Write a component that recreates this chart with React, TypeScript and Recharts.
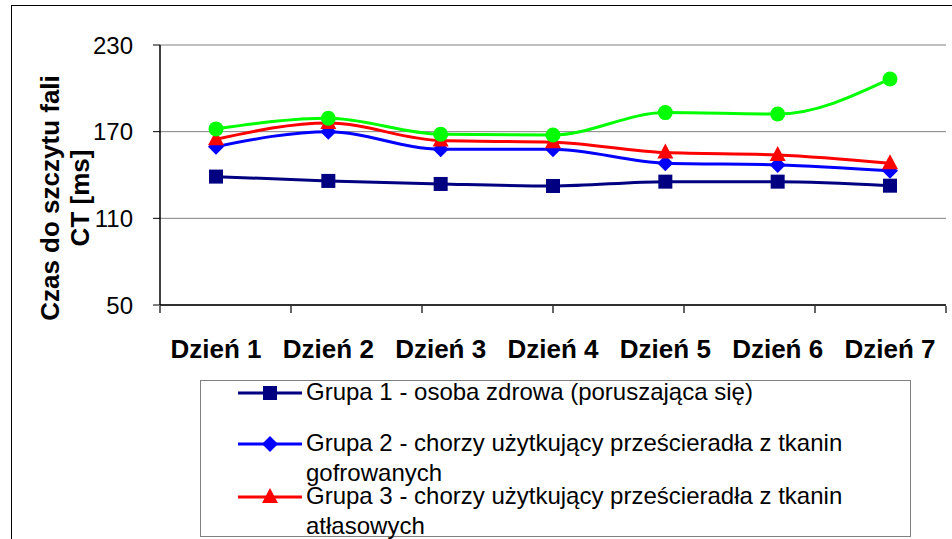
import { LineChart, Line, XAxis, YAxis, CartesianGrid } from "recharts";

const days = ["Dzień 1", "Dzień 2", "Dzień 3", "Dzień 4", "Dzień 5", "Dzień 6", "Dzień 7"];
const grupa1 = [138.9, 135.9, 133.8, 132.4, 135.4, 135.4, 132.6];
const grupa2 = [159.6, 170.0, 157.8, 157.8, 148.1, 147.0, 143.0];
const grupa3 = [164.7, 176.0, 163.8, 162.7, 155.5, 153.9, 148.1];
const grupa4 = [171.9, 179.3, 168.2, 167.7, 183.2, 182.2, 206.5];
const yTicks = [50, 110, 170, 230];
const boundaryTicks = [0, 1, 2, 3, 4, 5, 6, 7];

const legendNames = [
  "Grupa 1 - osoba zdrowa (poruszająca się)",
  "Grupa 2 - chorzy użytkujący prześcieradła z tkanin gofrowanych",
  "Grupa 3 - chorzy użytkujący prześcieradła z tkanin atłasowych",
];

const data = days.map((d, i) => ({
  name: d,
  g1: grupa1[i],
  g2: grupa2[i],
  g3: grupa3[i],
  g4: grupa4[i],
}));

const FONT = "'Liberation Sans', Arial, sans-serif";

function Square(props: any) {
  const { cx, cy, c } = props;
  if (cx == null || cy == null) return null;
  return <rect x={cx - 7} y={cy - 7} width={14} height={14} fill={c} />;
}
function Diamond(props: any) {
  const { cx, cy, c } = props;
  if (cx == null || cy == null) return null;
  return <polygon points={`${cx},${cy - 8} ${cx + 8},${cy} ${cx},${cy + 8} ${cx - 8},${cy}`} fill={c} />;
}
function Triangle(props: any) {
  const { cx, cy, c } = props;
  if (cx == null || cy == null) return null;
  return <polygon points={`${cx},${cy - 9} ${cx + 8},${cy + 6} ${cx - 8},${cy + 6}`} fill={c} />;
}
function Circle(props: any) {
  const { cx, cy, c } = props;
  if (cx == null || cy == null) return null;
  return <circle cx={cx} cy={cy} r={7.5} fill={c} />;
}

const legendItems = [
  { name: legendNames[0], color: "#000080", Marker: Square, y: 393 },
  { name: legendNames[1], color: "#0000FF", Marker: Diamond, y: 444 },
  { name: legendNames[2], color: "#FF0000", Marker: Triangle, y: 497 },
];

export default function App() {
  return (
    <div style={{ position: "absolute", left: 0, top: 0, width: 952, height: 539, overflow: "hidden", background: "#fff", fontFamily: FONT }}>
      <div style={{ position: "absolute", left: 11, top: 5, width: 1000, height: 600, border: "1.5px solid #000" }} />
      <div style={{ position: "absolute", left: 0, top: 0 }}>
        <LineChart width={952} height={539} data={data} margin={{ top: 45, right: 6, left: 100, bottom: 232 }}>
          <CartesianGrid horizontal vertical={false} stroke="#808080" strokeWidth={1} />
          <XAxis
            dataKey="name"
            padding={{ left: 56, right: 56 }}
            axisLine={{ stroke: "#000", strokeWidth: 1.5 }}
            tickLine={false}
            tick={{ fontSize: 26, fontWeight: 700, fill: "#000", fontFamily: FONT }}
            tickMargin={29}
            interval={0}
            height={1}
          />
          <XAxis
            xAxisId="b"
            type="number"
            domain={[0, 7]}
            ticks={boundaryTicks}
            interval={0}
            tickFormatter={() => ""}
            tick={{ fontSize: 1 }}
            tickSize={7}
            axisLine={false}
            tickLine={{ stroke: "#000", strokeWidth: 1.2 }}
            height={1}
          />
          <YAxis
            domain={[50, 230]}
            ticks={yTicks}
            interval={0}
            axisLine={{ stroke: "#000", strokeWidth: 1.5 }}
            tickLine={{ stroke: "#000" }}
            tickSize={7}
            tickMargin={20}
            tick={{ fontSize: 24, fill: "#000", fontFamily: FONT }}
            width={60}
          />
          <YAxis yAxisId="r" orientation="right" domain={[50, 230]} ticks={yTicks} tick={false} tickLine={false} axisLine={{ stroke: "#808080" }} width={0} />
          <Line dataKey="g1" type="monotone" stroke="#000080" strokeWidth={3} dot={<Square c="#000080" />} isAnimationActive={false} />
          <Line dataKey="g2" type="monotone" stroke="#0000FF" strokeWidth={3} dot={<Diamond c="#0000FF" />} isAnimationActive={false} />
          <Line dataKey="g3" type="monotone" stroke="#FF0000" strokeWidth={3} dot={<Triangle c="#FF0000" />} isAnimationActive={false} />
          <Line dataKey="g4" type="monotone" stroke="#00FF00" strokeWidth={3} dot={<Circle c="#00FF00" />} isAnimationActive={false} />
          <text
            transform="translate(65,198) rotate(-90)"
            textAnchor="middle"
            fontSize={26}
            fontWeight={700}
            fontFamily={FONT}
            fill="#000"
          >
            <tspan x={0} dy={-6}>Czas do szczytu fali</tspan>
            <tspan x={0} dy={30}>CT [ms]</tspan>
          </text>
        </LineChart>
      </div>
      <div style={{ position: "absolute", left: 200, top: 380, width: 711, height: 157, border: "1px solid #808080", boxSizing: "border-box" }} />
      {legendItems.map((it) => (
        <div key={it.name}>
          <svg style={{ position: "absolute", left: 236, top: it.y - 10 }} width={68} height={20}>
            <line x1={2} x2={66} y1={10} y2={10} stroke={it.color} strokeWidth={3} />
            <it.Marker cx={34} cy={10} c={it.color} />
          </svg>
          <div
            style={{
              position: "absolute",
              left: 306,
              top: it.y - 16,
              width: 580,
              fontSize: 24,
              lineHeight: "30px",
              color: "#000",
            }}
          >
            {it.name}
          </div>
        </div>
      ))}
    </div>
  );
}
